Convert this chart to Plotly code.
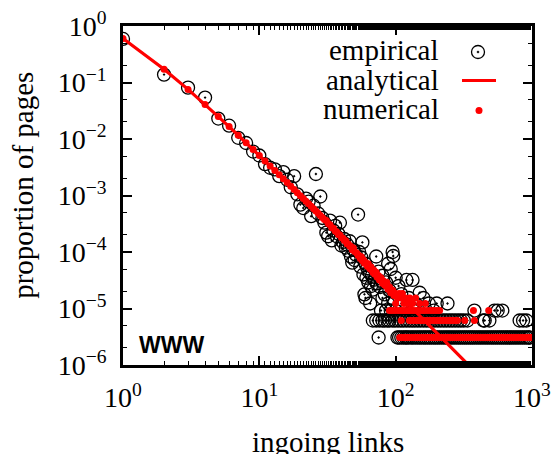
import plotly.graph_objects as go

# ---------------- data ----------------
N_PAGES = 326000  # one page -> 3.07e-6

# empirical, head (proportion)
emp_x = [1, 2, 3, 4, 5, 6, 7, 8, 9, 10, 11, 12, 13, 14, 15, 16, 17, 18, 19, 20,
         21, 22, 23, 24, 25, 26, 27, 28, 29, 30, 31, 32, 33, 34, 35, 36, 37, 38, 39, 40,
         41, 42, 43, 44, 45, 46, 47, 48, 49, 50, 51, 53, 54, 55, 56, 57, 58, 59, 60,
         61, 62, 63, 64, 66, 67, 68, 70, 72, 73, 75, 77, 80, 83, 85, 88, 90, 92, 95,
         96, 100, 105, 110, 120, 133, 150]
emp_y = [0.59, 0.138, 0.081, 0.054, 0.023, 0.0172, 0.0105, 0.0085, 0.0060, 0.0051,
         0.0036, 0.0031, 0.0029, 0.0022, 0.0026, 0.0019, 0.0014, 0.0022, 0.00105, 0.00069,
         0.00060, 0.00088, 0.00078, 0.00043, 0.00066, 0.0024, 0.00048, 0.00096, 0.00040, 0.00033,
         0.00022, 0.00019, 0.00036, 0.00016, 0.00024, 0.00029, 0.00019, 0.00021, 0.00033, 0.00013,
         0.00015, 0.00017, 0.00012, 0.000135, 0.000105, 0.000155, 0.000083, 0.000065, 0.00011, 0.000072,
         0.00009, 0.00046, 0.00010, 0.000055, 0.00008, 0.000148, 0.00004, 0.0000178, 0.000062,
         0.000035, 0.000052, 0.000029, 0.000044, 0.000025, 0.000038, 0.0000215, 0.0000324, 0.0000832, 0.000028,
         0.000045, 0.000024, 0.000038, 0.0000178, 0.000029, 0.000062, 0.000021, 0.00005, 0.0001,
         0.000085, 0.000035, 0.000025, 0.000018, 0.000032, 0.000032, 0.000019]

# empirical tail: degree values having 1..5 pages
emp_c1_x = [75, 103, 106, 110, 114, 118, 121, 125, 130, 134, 139, 144, 149, 154, 160, 165,
            171, 177, 183, 190, 196, 203, 210, 218, 226, 234, 242, 250, 259, 268, 278, 288,
            298, 309, 320, 331, 343, 355, 367, 380, 394, 408, 422, 437, 453, 469, 485, 503,
            520, 539, 558, 578, 598, 619, 641, 664, 688, 712, 737, 763, 790, 818, 847, 877,
            908, 940, 960]
emp_c2_x = [68, 72, 76, 80, 83, 87, 90, 95, 99, 104, 109, 114, 120, 126, 132, 138, 145,
            152, 160, 168, 176, 185, 194, 204, 214, 225, 236, 248, 260, 273, 287, 301, 316,
            336, 440, 450, 487, 811, 860, 910]
emp_c3_x = [78, 85, 92, 100, 118, 135, 160, 190, 378, 530, 560, 606]
emp_c4_x = [65, 88, 110, 140, 175, 200, 240]
emp_c5_x = [60, 80, 95, 125, 160]

# analytical curve, sampled values
ana_x = [1, 2, 3, 4, 5, 7, 10, 15, 20, 30, 50, 70, 100, 150, 200, 300, 400]
ana_y = [0.602, 0.1722, 0.0755, 0.0408, 0.02495, 0.01167, 0.00512, 0.00197, 0.000994,
         0.000375, 0.0001091, 0.0000482, 0.0000202, 0.00000752, 0.00000372, 0.00000138,
         0.000000684]

# numerical (simulation), head
num_x = [1, 2, 3, 4, 5, 6, 7, 8, 9, 10, 11, 12, 13, 14, 15, 16, 17, 18, 19, 20,
         21, 22, 23, 24, 25, 26, 27, 28, 29, 30, 31, 32, 33, 34, 35, 36, 37, 38, 39, 40,
         41, 42, 43, 44, 45, 46, 47, 48, 49, 50, 52, 53, 54, 55, 56, 57, 58, 59, 60,
         62, 63, 64, 65, 66, 68, 69, 70, 72, 73, 75, 76, 78, 80, 81, 83, 85, 86, 88,
         90, 92, 95, 97, 100]
num_y = [0.602, 0.1722, 0.0755, 0.0408, 0.02495, 0.01658, 0.01167, 0.00859, 0.00654, 0.00512,
         0.00410, 0.00334, 0.00277, 0.00232, 0.00197, 0.00169, 0.001464, 0.001277, 0.001123, 0.000994,
         0.000884, 0.000791, 0.000711, 0.000642, 0.000582, 0.000530, 0.000484, 0.000443, 0.000407, 0.000375,
         0.000360, 0.000318, 0.000305, 0.000270, 0.000262, 0.000236, 0.000226, 0.000205, 0.000199, 0.000181,
         0.000175, 0.000160, 0.000158, 0.000140, 0.000138, 0.000128, 0.000125, 0.000110, 0.000118, 0.000102,
         0.000095, 0.000088, 0.000086, 0.000077, 0.000082, 0.000070, 0.000073, 0.000063, 0.000066,
         0.000056, 0.000062, 0.000053, 0.000050, 0.000054, 0.000044, 0.000048, 0.000041, 0.000044,
         0.000036, 0.000038, 0.000032, 0.000035, 0.000028, 0.000031, 0.000026, 0.000025, 0.000029,
         0.000022, 0.000024, 0.000019, 0.000021, 0.000017, 0.000018]

# numerical tail: degree values having 1..6 pages
num_c6_x = [98, 106, 112]
num_c5_x = [103, 110, 118, 127, 140]
num_c4_x = [100, 115, 122, 133, 150, 165]
num_c3_x = [90, 94, 99, 104, 109, 113, 118, 123, 128, 134, 141, 148, 156, 163, 172, 181,
            190, 200, 210, 372, 481]
num_c2_x = [110, 126, 129, 133, 137, 140, 144, 148, 152, 157, 161, 166, 170, 175, 180, 186,
            191, 197, 203, 209, 215, 222, 229, 236, 243, 251, 259, 267, 275, 284, 321, 378]
num_c1_x = [107, 111, 115, 119, 123, 128, 133, 138, 143, 148, 154, 160, 166, 172, 178, 185,
            192, 199, 207, 214, 222, 231, 240, 249, 258, 268, 278, 288, 299, 310, 322, 334,
            347, 360, 373, 387, 402, 417, 433, 449, 466, 484, 502, 521, 540, 560, 582, 604,
            626, 650, 674, 700, 726, 753, 782, 811, 842, 873, 906, 940, 975, 1000]

x_tickvals = [1, 10, 100, 1000]
x_ticktext = ["10<sup>0</sup>", "10<sup>1</sup>", "10<sup>2</sup>", "10<sup>3</sup>"]
y_tickvals = [1, 1e-1, 1e-2, 1e-3, 1e-4, 1e-5, 1e-6]
y_ticktext = ["10<sup>0</sup>", "10<sup>−1</sup>", "10<sup>−2</sup>", "10<sup>−3</sup>",
              "10<sup>−4</sup>", "10<sup>−5</sup>", "10<sup>−6</sup>"]

# ---------------- assemble ----------------
def tail(levels):
    xs, ys = [], []
    for count, xl in levels:
        xs += xl
        ys += [count / N_PAGES] * len(xl)
    return xs, ys

et_x, et_y = tail([(1, emp_c1_x), (2, emp_c2_x), (3, emp_c3_x), (4, emp_c4_x), (5, emp_c5_x)])
nt_x, nt_y = tail([(1, num_c1_x), (2, num_c2_x), (3, num_c3_x), (4, num_c4_x), (5, num_c5_x), (6, num_c6_x)])

RED = "#ff0000"
SERIF = "Liberation Serif"

fig = go.Figure()
fig.add_trace(go.Scatter(
    x=emp_x + et_x, y=emp_y + et_y, mode="markers", name="empirical",
    marker=dict(symbol="circle-open-dot", size=13, color="black", line=dict(width=1.3, color="black")),
    showlegend=False))
fig.add_trace(go.Scatter(
    x=ana_x, y=ana_y, mode="lines", name="analytical",
    line=dict(color=RED, width=3.2), showlegend=False))
fig.add_trace(go.Scatter(
    x=num_x + nt_x, y=num_y + nt_y, mode="markers", name="numerical",
    marker=dict(symbol="circle", size=7, color=RED), showlegend=False))

axis_common = dict(
    type="log", showgrid=False, zeroline=False, showline=True, linecolor="black", linewidth=2.5,
    mirror="allticks", ticks="inside", ticklen=9, tickwidth=1.6, tickcolor="black",
    minor=dict(ticks="inside", ticklen=4.5, tickwidth=1.3, tickcolor="black", showgrid=False),
    tickfont=dict(family=SERIF, size=28, color="black"), automargin=False,
)

fig.update_xaxes(range=[0, 3], tickvals=x_tickvals, ticktext=x_ticktext, ticklabelstandoff=6, **axis_common)
fig.update_yaxes(range=[-6, 0], tickvals=y_tickvals, ticktext=y_ticktext, ticklabelstandoff=8, **axis_common)

ann = []
ann.append(dict(text="ingoing links", xref="paper", yref="paper", x=0.5, y=-0.226,
                xanchor="center", yanchor="middle", showarrow=False,
                font=dict(family=SERIF, size=29, color="black")))
ann.append(dict(text="proportion of pages", xref="paper", yref="paper", x=-0.245, y=0.531,
                xanchor="center", yanchor="middle", showarrow=False, textangle=-90,
                font=dict(family=SERIF, size=29, color="black")))
ann.append(dict(text="<b>WWW</b>", xref="paper", yref="paper", x=0.034, y=0.058,
                xanchor="left", yanchor="middle", showarrow=False,
                font=dict(family="Liberation Sans, Arial, sans-serif", size=23, color="black")))
for label, yp in [("empirical", 0.928), ("analytical", 0.840), ("numerical", 0.754)]:
    ann.append(dict(text=label, xref="paper", yref="paper", x=0.777, y=yp,
                    xanchor="right", yanchor="middle", showarrow=False,
                    font=dict(family=SERIF, size=29, color="black")))

# legend keys (paper coords)
W, H = 409.0, 339.0
def px(xp):
    return (xp - 123) / W
def py(yp):
    return (365 - yp) / H

shapes = [
    dict(type="circle", xref="paper", yref="paper", x0=px(471.5), x1=px(484.5), y0=py(58.5), y1=py(45.5),
         line=dict(color="black", width=1.3)),
    dict(type="circle", xref="paper", yref="paper", x0=px(477), x1=px(479), y0=py(53), y1=py(51),
         line=dict(color="black", width=0.5), fillcolor="black"),
    dict(type="line", xref="paper", yref="paper", x0=px(462), x1=px(496), y0=py(80.5), y1=py(80.5),
         line=dict(color=RED, width=3.2)),
    dict(type="circle", xref="paper", yref="paper", x0=px(475.5), x1=px(482.5), y0=py(114), y1=py(107),
         line=dict(color=RED, width=0), fillcolor=RED),
]

fig.update_layout(
    width=553, height=454, autosize=False,
    margin=dict(l=123, r=21, t=26, b=89),
    paper_bgcolor="white", plot_bgcolor="white",
    annotations=ann, shapes=shapes, showlegend=False,
)

fig.write_html("out.html")
